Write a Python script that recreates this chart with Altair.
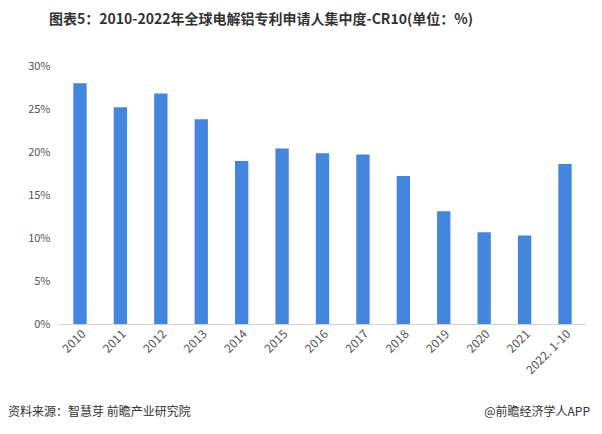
import altair as alt
import pandas as pd

years = ["2010", "2011", "2012", "2013", "2014", "2015", "2016", "2017",
         "2018", "2019", "2020", "2021", "2022. 1-10"]
values = [28.0, 25.2, 26.8, 23.8, 18.95, 20.4, 19.85, 19.7, 17.2, 13.1, 10.66, 10.3, 18.6]

title_text = "图表5：2010-2022年全球电解铝专利申请人集中度-CR10(单位：%)"
source_text = "资料来源：智慧芽 前瞻产业研究院"
brand_text = "@前瞻经济学人APP"

df = pd.DataFrame({"year": years, "value": [v / 100 for v in values]})

FONT = "Noto Sans CJK SC"

bars = alt.Chart(df).mark_bar(color="#4286E0").encode(
    x=alt.X("year:N", sort=years, title=None,
            scale=alt.Scale(paddingInner=0.67, paddingOuter=0.33),
            axis=alt.Axis(labelAngle=-45, labelAlign="right", labelBaseline="top",
                          labelFontSize=12, labelColor="#555555", labelFont=FONT,
                          ticks=False, domainColor="#d0d0d0", labelPadding=4)),
    y=alt.Y("value:Q", title=None,
            scale=alt.Scale(domain=[0, 0.3]),
            axis=alt.Axis(format=".0%", values=[0, 0.05, 0.1, 0.15, 0.2, 0.25, 0.3],
                          grid=False, domain=False, ticks=False, labelPadding=10,
                          labelFontSize=11, labelColor="#555555", labelFont=FONT)),
)

title = alt.Chart(pd.DataFrame({"t": [title_text]})).mark_text(
    font=FONT, fontSize=14, fontWeight="bold", color="#333333",
    align="center", baseline="middle"
).encode(text="t:N", x=alt.value(201), y=alt.value(-46))

source = alt.Chart(pd.DataFrame({"t": [source_text]})).mark_text(
    font=FONT, fontSize=12, color="#333333", align="left", baseline="middle"
).encode(text="t:N", x=alt.value(-52), y=alt.value(346))

brand = alt.Chart(pd.DataFrame({"t": [brand_text]})).mark_text(
    font=FONT, fontSize=12, color="#333333", align="right", baseline="middle"
).encode(text="t:N", x=alt.value(530), y=alt.value(346))

chart = alt.layer(bars, title, source, brand).properties(
    width=525, height=258,
    padding={"left": 52, "top": 58, "right": 9, "bottom": 102},
    autosize=alt.AutoSizeParams(type="none"),
).configure_view(stroke=None)

chart.save("out.html", embed_options={"renderer": "svg", "actions": False})
